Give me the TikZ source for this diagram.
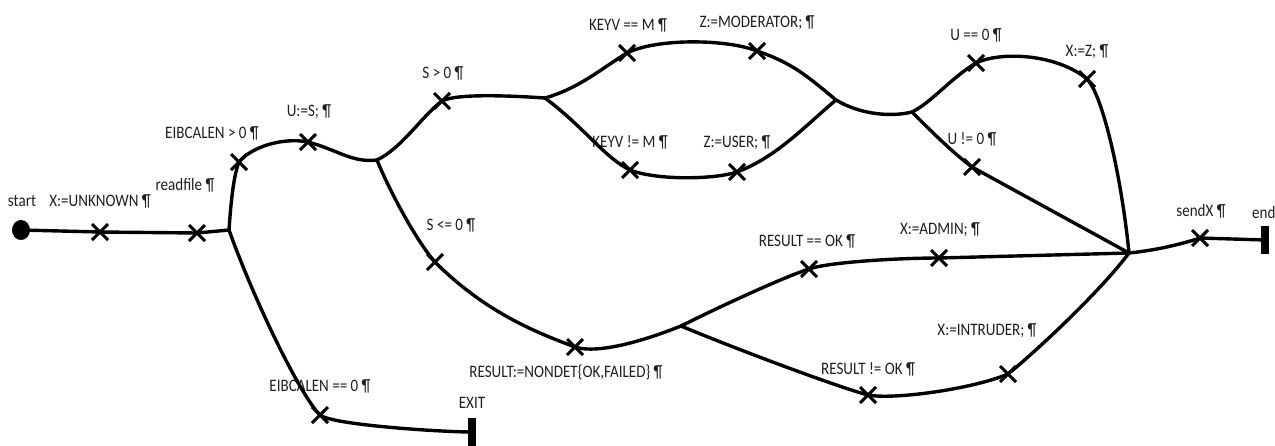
\documentclass[tikz,border=0pt]{standalone}
\usepackage{fontspec}
\setmainfont{Carlito}[FakeStretch=0.86]
\usetikzlibrary{shapes.misc,shapes.geometric}
\begin{document}
\begin{tikzpicture}[x=1pt,y=-1pt,
  flow/.style={line width=3.4pt,line cap=round,line join=round},
  stmt/.style={cross out,draw,line width=3pt,minimum size=13pt,inner sep=0pt},
  lbl/.style={font=\fontsize{17.5}{18}\selectfont,text=black!88,inner sep=0pt},
  termbar/.style={fill=black,minimum width=8pt,minimum height=28pt,inner sep=0pt},
  junction/.style={coordinate}]
\useasboundingbox (0,0) rectangle (1275,445);

% entry and exit terminals
\node[fill=black,ellipse,minimum width=18pt,minimum height=20pt,inner sep=0pt] (s0) at (21,230) {};
\node[termbar] (endbar) at (1265,240) {};
\node[termbar] (exitbar) at (472,432) {};

% branch points
\node[junction] (j1) at (229,230) {};
\node[junction] (j2) at (377,160) {};
\node[junction] (j3) at (545,98) {};
\node[junction] (j4) at (836,100) {};
\node[junction] (j5) at (912,112) {};
\node[junction] (j6) at (1129,253) {};
\node[junction] (j7) at (681,326) {};

% statement marks
\node[stmt] (munk) at (100,232) {};
\node[stmt] (mread) at (197,233) {};
\node[stmt] (meib) at (239,162) {};
\node[stmt] (mus) at (308,142) {};
\node[stmt] (msgt) at (442,101) {};
\node[stmt] (mkeq) at (627,53) {};
\node[stmt] (mmod) at (757,51) {};
\node[stmt] (mkne) at (630,170) {};
\node[stmt] (musr) at (737,172) {};
\node[stmt] (mueq) at (976,63) {};
\node[stmt] (mxz) at (1087,79) {};
\node[stmt] (mune) at (972,167) {};
\node[stmt] (msend) at (1200,238) {};
\node[stmt] (msle) at (435,262) {};
\node[stmt] (mnd) at (575,347) {};
\node[stmt] (mreq) at (809,269) {};
\node[stmt] (madm) at (939,258) {};
\node[stmt] (mrne) at (868,395) {};
\node[stmt] (mint) at (1008,374) {};
\node[stmt] (me0) at (320,415) {};

% labels
\node[lbl] (tstart) at (22,201) {start};
\node[lbl] (tunk) at (100,201) {X:=UNKNOWN ¶};
\node[lbl] (tread) at (185,185) {readfile ¶};
\node[lbl] (teib) at (212,133) {EIBCALEN > 0 ¶};
\node[lbl] (tus) at (309,112) {U:=S; ¶};
\node[lbl] (tsgt) at (443,73) {S > 0 ¶};
\node[lbl] (tsle) at (451,225) {S <= 0 ¶};
\node[lbl] (tkeq) at (628,25) {KEYV == M ¶};
\node[lbl] (tmod) at (757,23) {Z:=MODERATOR; ¶};
\node[lbl] (tkne) at (630,142) {KEYV != M ¶};
\node[lbl] (tusr) at (737,143) {Z:=USER; ¶};
\node[lbl] (tueq) at (976,35) {U == 0 ¶};
\node[lbl] (txz) at (1087,52) {X:=Z; ¶};
\node[lbl] (tune) at (972,139) {U != 0 ¶};
\node[lbl] (tsend) at (1201,211) {sendX ¶};
\node[lbl,anchor=west] (tend) at (1252,212) {end};
\node[lbl] (texit) at (472,403) {EXIT};
\node[lbl] (te0) at (320,386) {EIBCALEN == 0 ¶};
\node[lbl] (tnd) at (566,372) {RESULT:=NONDET\{OK,FAILED\} ¶};
\node[lbl] (treq) at (807,241) {RESULT == OK ¶};
\node[lbl] (tadm) at (940,230) {X:=ADMIN; ¶};
\node[lbl] (tint) at (987,331) {X:=INTRUDER; ¶};
\node[lbl] (trne) at (868,369) {RESULT != OK ¶};

% main line
\draw[flow] (s0.center) -- (munk.center) -- (mread.center) -- (j1);
% EIBCALEN > 0 branch
\draw[flow] (j1) .. controls +(2,-30) and +(-5,12) .. (meib.center)
  .. controls +(12,-15) and +(-25,-5) .. (mus.center)
  .. controls +(30,8) and +(-25,3) .. (j2);
% S > 0 branch
\draw[flow] (j2) .. controls +(25,-12) and +(-20,15) .. (msgt.center)
  .. controls +(15,-8) and +(-30,-2) .. (j3);
% KEYV == M
\draw[flow] (j3) .. controls +(35,-10) and +(-25,15) .. (mkeq.center)
  .. controls +(30,-15) and +(-30,-12) .. (mmod.center)
  .. controls +(35,12) and +(-30,-25) .. (j4);
% KEYV != M
\draw[flow] (j3) .. controls +(40,30) and +(-25,-12) .. (mkne.center)
  .. controls +(25,10) and +(-25,8) .. (musr.center)
  .. controls +(40,-15) and +(-30,25) .. (j4);
\draw[flow] (j4) .. controls +(25,15) and +(-20,5) .. (j5);
% U == 0
\draw[flow] (j5) .. controls +(20,-10) and +(-25,15) .. (mueq.center)
  .. controls +(25,-12) and +(-30,-25) .. (mxz.center)
  .. controls +(15,15) and +(-8,-80) .. (j6);
% U != 0
\draw[flow] (j5) .. controls +(20,20) and +(-20,-15) .. (mune.center) -- (j6);
% S <= 0 branch
\draw[flow] (j2) .. controls +(12,30) and +(-18,-20) .. (msle.center)
  .. controls +(50,50) and +(-40,-15) .. (mnd.center)
  .. controls +(25,8) and +(-30,12) .. (j7);
% RESULT == OK
\draw[flow] (j7) .. controls +(40,-20) and +(-25,8) .. (mreq.center)
  .. controls +(20,-7) and +(-40,0) .. (madm.center) -- (j6);
% RESULT != OK
\draw[flow] (j7) .. controls +(60,25) and +(-30,-8) .. (mrne.center)
  .. controls +(25,5) and +(-35,15) .. (mint.center)
  .. controls +(25,-20) and +(-30,40) .. (j6);
% to end
\draw[flow] (j6) .. controls +(30,-3) and +(-15,5) .. (msend.center) -- (endbar.center);
% EIBCALEN == 0 to EXIT
\draw[flow] (j1) .. controls +(25,70) and +(-20,-20) .. (me0.center)
  .. controls +(12,10) and +(-30,0) .. (exitbar.center);
\end{tikzpicture}
\end{document}
